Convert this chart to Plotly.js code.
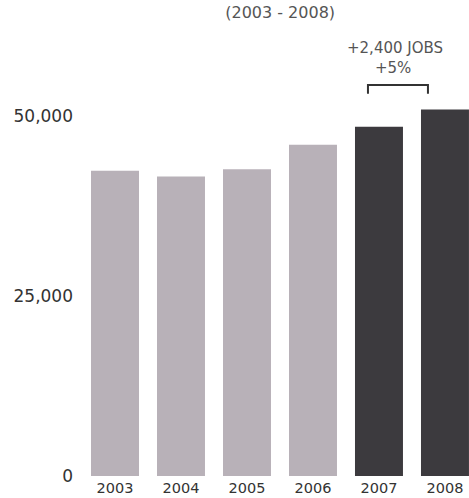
<!DOCTYPE html>
<html>
<head>
<meta charset="utf-8">
<script src="https://cdn.plot.ly/plotly-3.0.1.min.js"></script>
<style>html,body{margin:0;padding:0;background:#fff;}#chart{width:469px;height:498px;}</style>
</head>
<body>
<div id="chart"></div>
<script>
const years = ['2003', '2004', '2005', '2006', '2007', '2008'];
const jobs = [42400, 41600, 42600, 46000, 48500, 50900];
const highlightYears = ['2007', '2008'];
const yTicks = [0, 25000, 50000];
const yTickLabels = ['0', '25,000', '50,000'];
const subtitle = '(2003 - 2008)';
const changeLabel = '+2,400 JOBS';
const changePct = '+5%';

const LIGHT = '#b8b1b8';
const DARK = '#3c3a3e';

const trace = {
  type: 'bar',
  x: years.map((_, i) => i),
  y: jobs,
  marker: { color: years.map(y => highlightYears.includes(y) ? DARK : LIGHT) },
  hoverinfo: 'skip'
};

const layout = {
  width: 469, height: 498,
  margin: { l: 82, r: 0, t: 26, b: 22 },
  paper_bgcolor: '#fff', plot_bgcolor: '#fff',
  showlegend: false,
  bargap: 0.273,
  font: { family: 'DejaVu Sans', color: '#333' },
  title: {
    text: subtitle,
    font: { family: 'DejaVu Sans', size: 16, color: '#555' },
    xref: 'paper', x: 0.512, xanchor: 'center',
    yref: 'container', y: 0.976, yanchor: 'middle'
  },
  xaxis: {
    range: [-0.5, 5.364],
    tickmode: 'array',
    tickvals: years.map((_, i) => i),
    ticktext: years,
    showgrid: false, zeroline: false, showline: false,
    ticks: '',
    ticklabelstandoff: 1,
    tickfont: { family: 'DejaVu Sans', size: 14.5, color: '#333' },
    fixedrange: true
  },
  yaxis: {
    range: [0, 62500],
    tickmode: 'array',
    tickvals: yTicks,
    ticktext: yTickLabels,
    showgrid: false, zeroline: false, showline: false,
    ticks: '',
    ticklabelstandoff: 8,
    tickfont: { family: 'DejaVu Sans', size: 17, color: '#333' },
    fixedrange: true
  },
  annotations: [
    { xref: 'x', yref: 'y', x: 4.24, y: 59500, text: changeLabel, showarrow: false,
      font: { family: 'DejaVu Sans', size: 15, color: '#555' }, xanchor: 'center', yanchor: 'middle' },
    { xref: 'x', yref: 'y', x: 4.21, y: 56600, text: changePct, showarrow: false,
      font: { family: 'DejaVu Sans', size: 15, color: '#555' }, xanchor: 'center', yanchor: 'middle' }
  ],
  shapes: [
    { type: 'path', xref: 'x', yref: 'y',
      path: 'M 3.833 53100 L 3.833 54300 L 4.742 54300 L 4.742 53100',
      line: { color: '#333', width: 2 } }
  ]
};

Plotly.newPlot('chart', [trace], layout, { displayModeBar: false, staticPlot: true });
</script>
</body>
</html>
